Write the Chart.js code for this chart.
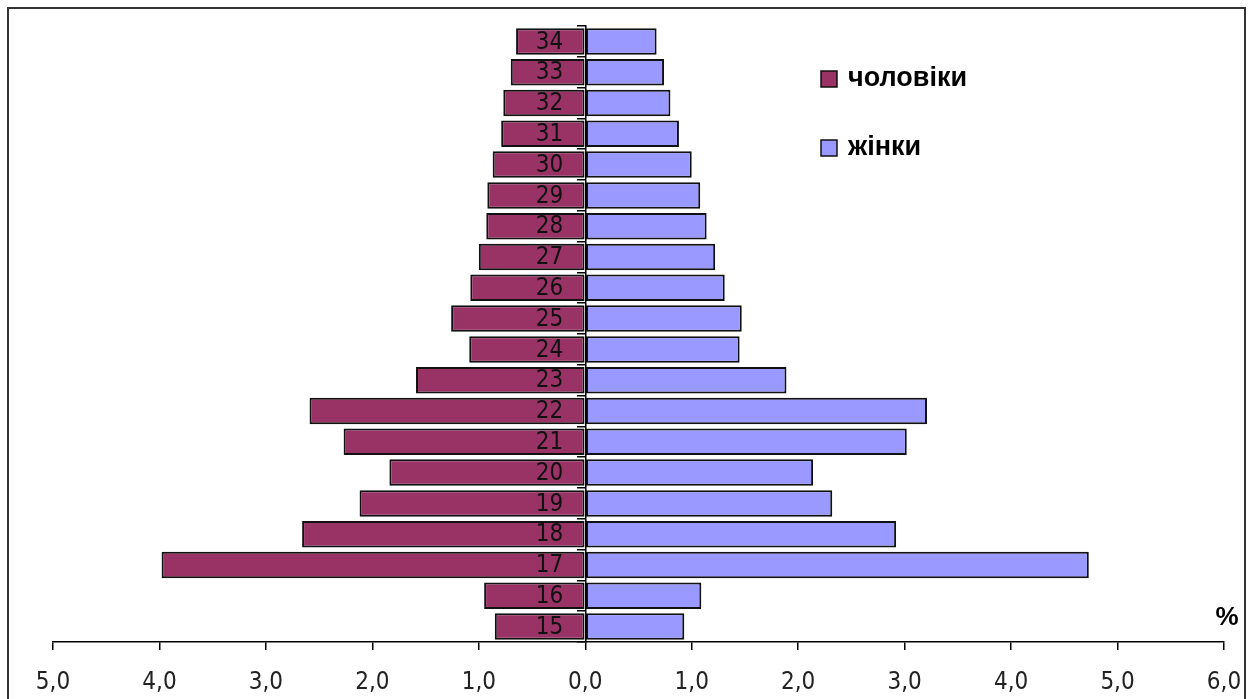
<!DOCTYPE html>
<html>
<head>
<meta charset="utf-8">
<script src="https://cdn.jsdelivr.net/npm/chart.js@4/dist/chart.umd.min.js"></script>
<style>
  html, body { margin: 0; padding: 0; background: #fff; }
  canvas { display: block; }
</style>
</head>
<body>
<canvas id="c" width="1256" height="699"></canvas>
<script>
// Age categories (bottom to top)
const ages = ['15','16','17','18','19','20','21','22','23','24','25','26','27','28','29','30','31','32','33','34'];
// Share of population, %
const men   = [0.85, 0.95, 3.98, 2.66, 2.12, 1.84, 2.27, 2.59, 1.59, 1.09, 1.26, 1.08, 1.00, 0.93, 0.92, 0.87, 0.79, 0.77, 0.70, 0.65];
const women = [0.93, 1.09, 4.73, 2.92, 2.32, 2.14, 3.02, 3.21, 1.89, 1.45, 1.47, 1.31, 1.22, 1.14, 1.08, 1.00, 0.88, 0.80, 0.74, 0.67];
const seriesNames = ['чоловіки', 'жінки'];
const xMin = -5, xMax = 6;
const unitLabel = '%';

const FONT = '"Liberation Sans Narrow", "DejaVu Sans Condensed", "Liberation Sans", Arial, sans-serif';

// Age labels drawn over the bars, right-aligned a little left of the zero axis
const ageLabels = {
  id: 'ageLabels',
  afterDatasetsDraw(chart) {
    const ctx = chart.ctx;
    const ys = chart.scales.y, xs = chart.scales.x;
    const x0 = xs.getPixelForValue(0) - 22;
    ctx.save();
    ctx.font = '24px ' + FONT;
    ctx.fillStyle = '#111';
    ctx.textAlign = 'right';
    ctx.textBaseline = 'middle';
    ys.ticks.forEach((t, i) => {
      ctx.fillText(chart.data.labels[t.value], x0, ys.getPixelForTick(i) + 1);
    });
    ctx.restore();
  }
};

const extras = {
  id: 'extras',
  afterDraw(chart) {
    const ctx = chart.ctx;
    ctx.save();
    // outer frame
    ctx.strokeStyle = '#333';
    ctx.lineWidth = 2;
    ctx.strokeRect(8, 8, 1237, 700);
    // legend
    const ds = chart.data.datasets;
    ctx.font = 'bold 27px "Liberation Sans", Arial, sans-serif';
    ctx.textBaseline = 'middle';
    ctx.textAlign = 'left';
    const lx = 821, ly = [79, 148];
    ds.forEach((d, i) => {
      ctx.fillStyle = d.backgroundColor;
      ctx.fillRect(lx, ly[i] - 8, 16, 16);
      ctx.lineWidth = 1.5;
      ctx.strokeStyle = '#111';
      ctx.strokeRect(lx, ly[i] - 8, 16, 16);
      ctx.fillStyle = '#000';
      ctx.fillText(d.label, lx + 27, ly[i]);
    });
    // unit label
    ctx.font = 'bold 26px "Liberation Sans", Arial, sans-serif';
    ctx.textAlign = 'center';
    ctx.fillText(unitLabel, chart.scales.x.right + 3, 618);
    ctx.restore();
  }
};

new Chart(document.getElementById('c'), {
  type: 'bar',
  data: {
    labels: ages,
    datasets: [
      { label: seriesNames[0], data: men.map(v => -v), backgroundColor: '#993366', borderColor: '#111', borderWidth: 2, borderSkipped: false },
      { label: seriesNames[1], data: women, backgroundColor: '#9999FF', borderColor: '#111', borderWidth: 2, borderSkipped: false }
    ]
  },
  options: {
    indexAxis: 'y',
    responsive: false,
    animation: false,
    events: [],
    layout: { padding: { left: 53, right: 32, top: 26, bottom: 0 } },
    datasets: { bar: { barPercentage: 0.86, categoryPercentage: 1.0 } },
    plugins: { legend: { display: false }, tooltip: { enabled: false } },
    scales: {
      x: {
        stacked: true,
        min: xMin, max: xMax,
        afterFit: s => { s.height = 57; s.paddingLeft = 0; s.paddingRight = 0; },
        ticks: {
          stepSize: 1,
          padding: 18,
          color: '#222',
          font: { family: FONT, size: 24 },
          maxRotation: 0,
          callback: v => Math.abs(v).toFixed(1).replace('.', ',')
        },
        grid: { drawOnChartArea: false, drawTicks: true, tickLength: 8, color: '#000', lineWidth: 1.5 },
        border: { display: true, color: '#000', width: 1.5 }
      },
      y: {
        stacked: true,
        reverse: true,
        position: { x: 0 },
        offset: true,
        ticks: { display: false, autoSkip: false },
        grid: { drawOnChartArea: false, drawTicks: true, tickLength: 8, offset: true, color: '#000', lineWidth: 1.5 },
        border: { display: true, color: '#000', width: 1.5, z: 1 }
      }
    }
  },
  plugins: [ageLabels, extras]
});
</script>
</body>
</html>
